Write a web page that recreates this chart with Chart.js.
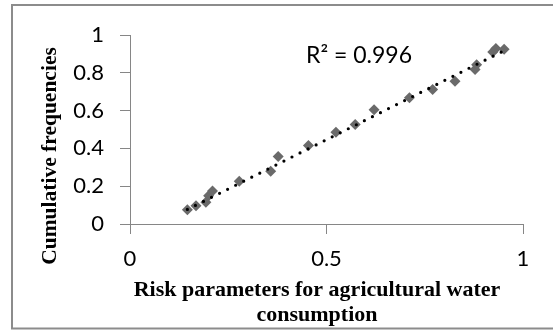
<!DOCTYPE html>
<html>
<head>
<meta charset="utf-8">
<script src="https://cdn.jsdelivr.net/npm/chart.js@4.4.0/dist/chart.umd.min.js"></script>
<style>
  html, body { margin: 0; padding: 0; background: #fff; }
  #wrap { width: 553px; height: 334px; }
</style>
</head>
<body>
<div id="wrap"><canvas id="cdfChart" width="553" height="334"></canvas></div>
<script>
// values
const riskValues = [0.146, 0.168, 0.193, 0.200, 0.210, 0.278, 0.358, 0.377, 0.454, 0.524, 0.573, 0.621, 0.711, 0.770, 0.827, 0.878, 0.882, 0.923, 0.931, 0.952];
const cumFreq    = [0.075, 0.097, 0.115, 0.150, 0.175, 0.226, 0.279, 0.357, 0.415, 0.486, 0.527, 0.605, 0.668, 0.712, 0.755, 0.817, 0.843, 0.910, 0.928, 0.925];

// dotted linear trendline, endpoints
const trendX = [0.146, 0.945];
const trendY = [0.077, 0.910];

const xTicks = [0, 0.5, 1];
const xTickLabels = ["0", "0.5", "1"];
const yTicks = [0, 0.2, 0.4, 0.6, 0.8, 1];
const yTickLabels = ["0", "0.2", "0.4", "0.6", "0.8", "1"];

const r2Label = "R² = 0.996";
const xTitle = ["Risk parameters for agricultural water", "consumption"];
const yTitle = "Cumulative frequencies";

const axisGray = "#868686";
const tickFont = { family: "Lato", size: 22 };

const textPlugin = {
  id: "textPlugin",
  afterDraw(chart) {
    const ctx = chart.ctx;
    ctx.save();
    // outer frame (right side is cut off in the original)
    ctx.strokeStyle = "#8c8c8c";
    ctx.lineWidth = 2;
    ctx.beginPath();
    ctx.moveTo(553, 5);
    ctx.lineTo(12, 5);
    ctx.lineTo(12, 328.5);
    ctx.lineTo(553, 328.5);
    ctx.stroke();

    ctx.fillStyle = "#000";
    ctx.font = "bold 22px 'Liberation Serif'";
    ctx.textAlign = "center";
    ctx.textBaseline = "middle";
    ctx.fillText(xTitle[0], 317, 290);
    ctx.fillText(xTitle[1], 317, 315);

    ctx.font = "bold 21.5px 'Liberation Serif'";
    ctx.translate(50, 156);
    ctx.rotate(-Math.PI / 2);
    ctx.fillText(yTitle, 0, 0);
    ctx.restore();

    ctx.save();
    ctx.fillStyle = "#000";
    ctx.font = "23px Lato";
    ctx.textAlign = "left";
    ctx.textBaseline = "alphabetic";
    ctx.fillText(r2Label, 306, 63);
    ctx.restore();
  }
};

new Chart(document.getElementById("cdfChart"), {
  type: "scatter",
  data: {
    datasets: [
      {
        label: "Trend",
        type: "line",
        data: trendX.map((x, i) => ({ x: x, y: trendY[i] })),
        borderColor: "#000",
        borderWidth: 3.2,
        borderDash: [0, 9],
        borderCapStyle: "round",
        pointRadius: 0,
        fill: false,
        order: 0
      },
      {
        label: "Observed",
        data: riskValues.map((x, i) => ({ x: x, y: cumFreq[i] })),
        pointStyle: "rectRot",
        pointRadius: 5.5,
        backgroundColor: "#6a6a6a",
        borderColor: "#6a6a6a",
        borderWidth: 0,
        order: 1
      }
    ]
  },
  options: {
    responsive: false,
    animation: false,
    layout: { padding: { left: 0, right: 30, top: 35, bottom: 0 } },
    plugins: {
      legend: { display: false },
      tooltip: { enabled: false }
    },
    scales: {
      x: {
        type: "linear",
        min: 0,
        max: 1,
        afterBuildTicks: s => { s.ticks = xTicks.map(v => ({ value: v })); },
        afterFit: s => { s.height = 110; },
        grid: { drawOnChartArea: false, drawTicks: true, tickLength: 10, color: axisGray },
        border: { color: axisGray },
        ticks: {
          font: tickFont, color: "#000", padding: 12, maxRotation: 0,
          callback: (v, i) => xTickLabels[i]
        }
      },
      y: {
        type: "linear",
        min: 0,
        max: 1,
        afterBuildTicks: s => { s.ticks = yTicks.map(v => ({ value: v })); },
        afterFit: s => { s.width = 130; },
        grid: { drawOnChartArea: false, drawTicks: true, tickLength: 10, color: axisGray },
        border: { color: axisGray },
        ticks: {
          font: tickFont, color: "#000", padding: 16,
          callback: (v, i) => yTickLabels[i]
        }
      }
    }
  },
  plugins: [textPlugin]
});
</script>
</body>
</html>
